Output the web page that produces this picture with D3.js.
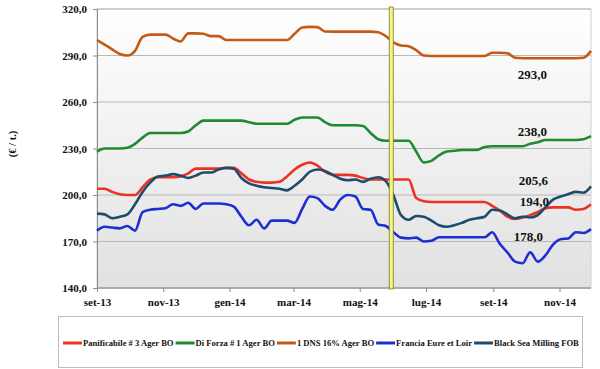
<!DOCTYPE html>
<html>
<head>
<meta charset="utf-8">
<script src="https://cdn.jsdelivr.net/npm/d3@7"></script>
<style>
  html, body { margin: 0; padding: 0; background: #fff; }
  svg { display: block; font-family: 'Liberation Serif', 'Times New Roman', serif; }
</style>
</head>
<body>
<div id="chart"></div>
<script>
// weekly quotes, first week starting 2013-09-01
const startDate = new Date(Date.UTC(2013, 8, 1));
const weeks = d3.range(66).map((i) => d3.utcDay.offset(startDate, i * 7));

const seriesNames = [
  'Panificabile # 3 Ager BO',
  'Di Forza # 1 Ager BO',
  '1 DNS 16% Ager BO',
  'Francia Eure et Loir',
  'Black Sea Milling FOB',
];

const panificabile = [
  204, 204, 202, 200.5, 200, 200, 205, 210, 211.5, 211.5, 211.5, 212, 214, 217, 217, 217,
  217, 217.5, 217.5, 214, 210, 208.5, 208, 208, 208.5, 212, 216.5, 219.5, 221, 219, 215, 213,
  213, 213, 212.5, 211, 210, 210, 210, 210, 210, 210, 198, 196, 195.5, 195.5, 195.5, 195.5,
  195.5, 195.5, 195.5, 195.5, 193, 190, 186, 184.5, 185.5, 187, 189, 191.5, 192, 192, 192,
  190.5, 191, 194,
];

const diForza = [
  228, 230, 230, 230, 230.5, 233, 237, 240, 240, 240, 240, 240, 241, 245, 248, 248,
  248, 248, 248, 248, 247, 246, 246, 246, 246, 246, 248.5, 250, 250, 250, 247, 245,
  245, 245, 245, 244.5, 240, 236, 235, 235, 235, 235, 228, 221, 222, 225.5, 228, 228.5,
  229, 229, 229, 231, 231.5, 231.5, 231.5, 231.5, 231.5, 233, 234, 235.5, 235.5, 235.5, 235.5,
  235.5, 236, 238,
];

const dns16 = [
  300, 297, 294, 291, 290, 293, 302, 303.5, 303.5, 303.5, 301, 299, 304.3, 304.3, 304, 302.5,
  302.5, 300, 300, 300, 300, 300, 300, 300, 300, 300, 304, 308, 308.5, 308.3, 305.5, 305.4,
  305.4, 305.4, 305.4, 305.4, 305.4, 305, 302.5, 298.5, 296.5, 296, 293.5, 290, 289.7, 289.7,
  289.7, 289.7, 289.7, 289.7, 289.7, 289.7, 291.8, 291.8, 291.5, 288.5, 288.2, 288.2, 288.2,
  288.2, 288.2, 288.2, 288.2, 288.2, 288.5, 293,
];

const francia = [
  177, 179.5, 179, 178.5, 180, 177, 189, 190.5, 191, 191.5, 194, 193, 195, 191, 194.5, 194.5,
  194.5, 194, 192.5, 186, 180.5, 184, 178.5, 183.5, 183.5, 183.5, 182, 191, 199, 198, 193, 190.5,
  197, 200, 199, 191, 190.5, 181, 180, 176, 172.5, 172, 172.5, 170, 170.5, 172.7, 172.7, 172.7,
  172.7, 172.7, 172.7, 172.7, 176, 168.5, 163, 157, 156, 163, 157, 161, 168, 171.5, 172,
  176, 175.5, 178,
];

const blackSea = [
  188, 187.5, 185, 186, 187.5, 194, 202, 208, 212, 212.5, 213.5, 212.5, 211, 212.5, 214.5, 214.5,
  216.5, 217.5, 217, 211, 207.5, 206, 205, 204.5, 204, 203, 206, 210, 215, 216.5, 215.5, 213,
  210.5, 209.5, 210, 208.5, 210.5, 211.5, 209, 200, 187, 184, 186.5, 186, 183.5, 180.5, 179.5,
  180.5, 182, 184, 185, 186, 190.5, 190, 187.5, 185, 186, 185.5, 187, 192, 197, 199, 200.5,
  202, 201.5, 205.6,
];

const seriesValues = [panificabile, diForza, dns16, francia, blackSea];
const seriesColors = ['#ec3323', '#1f8a2f', '#c55a17', '#1c2fd0', '#1d4c6c'];

const yTicks = [140, 170, 200, 230, 260, 290, 320];
const xTickDates = [
  [2013, 8], [2013, 10], [2014, 0], [2014, 2], [2014, 4], [2014, 6], [2014, 8], [2014, 10],
].map(([y, m]) => new Date(Date.UTC(y, m, 1)));
const xTickLabels = ['set-13', 'nov-13', 'gen-14', 'mar-14', 'mag-14', 'lug-14', 'set-14', 'nov-14'];

const markerDate = new Date(Date.UTC(2014, 4, 30));

const endLabels = [
  { text: '293,0', x: 547, y: 79 },
  { text: '238,0', x: 547, y: 136 },
  { text: '205,6', x: 548, y: 185 },
  { text: '194,0', x: 549, y: 206 },
  { text: '178,0', x: 543, y: 241 },
];

const width = 600;
const height = 369;
const marginLeft = 97;
const marginRight = 9;
const marginTop = 9;
const plotBottom = 288;

const xScale = d3
  .scaleUtc()
  .domain([startDate, weeks[weeks.length - 1]])
  .range([marginLeft, width - marginRight]);

const yScale = d3.scaleLinear().domain([140, 320]).range([plotBottom, marginTop]);

const svg = d3
  .select('#chart')
  .append('svg')
  .attr('width', width)
  .attr('height', height)
  .attr('viewBox', [0, 0, width, height]);

const defs = svg.append('defs');
const bgGradient = defs
  .append('linearGradient')
  .attr('id', 'plot-bg')
  .attr('x1', 0)
  .attr('x2', 0)
  .attr('y1', 0)
  .attr('y2', 1);
bgGradient.append('stop').attr('offset', '0%').attr('stop-color', '#ffffff');
bgGradient.append('stop').attr('offset', '100%').attr('stop-color', '#e1e1e1');

// plot area
svg
  .append('rect')
  .attr('x', marginLeft)
  .attr('y', marginTop)
  .attr('width', width - marginRight - marginLeft)
  .attr('height', plotBottom - marginTop)
  .attr('fill', 'url(#plot-bg)')
  .attr('stroke', '#d0d0d0');

// grid
svg
  .append('g')
  .selectAll('line')
  .data(yTicks)
  .join('line')
  .attr('x1', marginLeft)
  .attr('x2', width - marginRight)
  .attr('y1', (d) => yScale(d))
  .attr('y2', (d) => yScale(d))
  .attr('stroke', '#b8b8b8')
  .attr('stroke-width', 1);

// y axis
const gy = svg
  .append('g')
  .attr('transform', `translate(${marginLeft},0)`)
  .call(
    d3
      .axisLeft(yScale)
      .tickValues(yTicks)
      .tickSizeInner(4)
      .tickSizeOuter(0)
      .tickPadding(6)
      .tickFormat((d) => d3.format('.1f')(d).replace('.', ',')),
  );

// x axis
const gx = svg
  .append('g')
  .attr('transform', `translate(0,${plotBottom})`)
  .call(
    d3
      .axisBottom(xScale)
      .tickValues(xTickDates)
      .tickSizeInner(4)
      .tickSizeOuter(0)
      .tickPadding(6)
      .tickFormat((d, i) => xTickLabels[i]),
  );

function applyAxisStyle(g) {
  g.select('.domain').attr('stroke', '#8c8c8c');
  g.selectAll('.tick line').attr('stroke', '#8c8c8c');
  g.selectAll('.tick text')
    .attr('fill', '#111')
    .style('font-family', "'Liberation Serif', serif")
    .style('font-weight', 'bold')
    .style('font-size', '11px');
}
applyAxisStyle(gx);
applyAxisStyle(gy);
gx.select('.domain').remove();
svg
  .append('line')
  .attr('x1', marginLeft)
  .attr('x2', width - marginRight)
  .attr('y1', plotBottom)
  .attr('y2', plotBottom)
  .attr('stroke', '#8c8c8c');

// y axis title
svg
  .append('text')
  .attr('transform', 'translate(16,144) rotate(-90)')
  .attr('text-anchor', 'middle')
  .style('font-weight', 'bold')
  .style('font-size', '10.5px')
  .attr('fill', '#111')
  .text('(€ / t.)');

// lines
const line = d3
  .line()
  .x((d) => xScale(d.date))
  .y((d) => yScale(d.value))
  .curve(d3.curveMonotoneX);

svg
  .append('g')
  .selectAll('path')
  .data(seriesValues)
  .join('path')
  .attr('fill', 'none')
  .attr('stroke', (_d, i) => seriesColors[i])
  .attr('stroke-width', 2.6)
  .attr('stroke-linejoin', 'round')
  .attr('d', (values) => line(values.map((v, i) => ({ date: weeks[i], value: v }))));

// vertical marker
svg
  .append('rect')
  .attr('x', xScale(markerDate) - 2)
  .attr('y', marginTop - 2)
  .attr('width', 4)
  .attr('height', plotBottom - marginTop + 3)
  .attr('fill', '#f4f48a')
  .attr('stroke', '#7d7d10')
  .attr('stroke-width', 0.8);

// end values
svg
  .append('g')
  .selectAll('text')
  .data(endLabels)
  .join('text')
  .attr('x', (d) => d.x)
  .attr('y', (d) => d.y)
  .attr('text-anchor', 'end')
  .style('font-weight', 'bold')
  .style('font-size', '13px')
  .attr('fill', '#111')
  .text((d) => d.text);

// legend
svg
  .append('rect')
  .attr('x', 58.5)
  .attr('y', 316.5)
  .attr('width', 524)
  .attr('height', 51)
  .attr('fill', '#fff')
  .attr('stroke', '#bdbdbd');

const legend = svg.append('g').attr('transform', 'translate(0,343)');
let cursor = 63;
seriesNames.forEach((name, i) => {
  legend
    .append('line')
    .attr('x1', cursor)
    .attr('x2', cursor + 19)
    .attr('y1', 0)
    .attr('y2', 0)
    .attr('stroke', seriesColors[i])
    .attr('stroke-width', 3);
  const label = legend
    .append('text')
    .attr('x', cursor + 20)
    .attr('y', 3)
    .style('font-weight', 'bold')
    .style('font-size', '8.6px')
    .attr('fill', '#111')
    .text(name);
  cursor += 20 + label.node().getComputedTextLength() + 2;
});
</script>
</body>
</html>
